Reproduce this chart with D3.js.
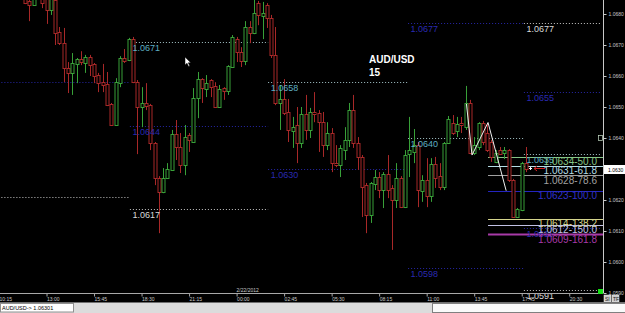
<!DOCTYPE html>
<html>
<head>
<meta charset="utf-8">
<title>AUD/USD 15</title>
<script src="https://d3js.org/d3.v7.min.js"></script>
<style>
  body { margin: 0; background: #000; overflow: hidden; }
  svg { display: block; font-family: Arial, "Liberation Sans", sans-serif; }
</style>
</head>
<body>
<script>
// M15 bars, first one shown is bar 6 (counted from the 10:15 tick)
const firstBar = 6;
const opens = [1.06861,1.06842,1.06829,1.06871,1.06855,1.06852,1.06813,1.06845,1.06742,1.06706,
  1.06626,1.06610,1.06639,1.06655,1.06642,1.06661,1.06639,1.06603,1.06580,1.06574,
  1.06510,1.06442,1.06577,1.06658,1.06652,1.06719,1.06580,1.06500,1.06513,1.06506,
  1.06384,1.06271,1.06226,1.06271,1.06297,1.06413,1.06371,1.06313,1.06410,1.06387,
  1.06529,1.06590,1.06558,1.06587,1.06568,1.06500,1.06561,1.06551,1.06629,1.06719,
  1.06677,1.06648,1.06758,1.06739,1.06835,1.06794,1.06829,1.06787,1.06668,1.06513,
  1.06526,1.06484,1.06422,1.06442,1.06384,1.06477,1.06426,1.06484,1.06481,1.06451,
  1.06377,1.06416,1.06319,1.06313,1.06361,1.06394,1.06490,1.06384,1.06339,1.06248,
  1.06152,1.06252,1.06274,1.06232,1.06284,1.06239,1.06200,1.06271,1.06177,1.06348,
  1.06355,1.06377,1.06229,1.06265,1.06213,1.06316,1.06277,1.06242,1.06384,1.06448,
  1.06422,1.06448,1.06435,1.06513,1.06351,1.06371,1.06448,1.06416,1.06387,1.06323,
  1.06361,1.06351,1.06361,1.06265,1.06145,1.06168,1.06319];
const highs = [1.06877,1.06855,1.06861,1.06894,1.06865,1.06861,1.06858,1.06855,1.06758,1.06755,
  1.06645,1.06674,1.06658,1.06680,1.06668,1.06668,1.06642,1.06610,1.06639,1.06613,
  1.06513,1.06593,1.06664,1.06687,1.06723,1.06726,1.06587,1.06564,1.06577,1.06510,
  1.06387,1.06277,1.06303,1.06319,1.06426,1.06458,1.06416,1.06442,1.06416,1.06561,
  1.06613,1.06593,1.06603,1.06590,1.06580,1.06571,1.06564,1.06635,1.06732,1.06726,
  1.06693,1.06777,1.06777,1.06852,1.06842,1.06839,1.06835,1.06797,1.06758,1.06571,
  1.06590,1.06526,1.06468,1.06500,1.06500,1.06539,1.06497,1.06548,1.06490,1.06484,
  1.06451,1.06432,1.06377,1.06377,1.06435,1.06513,1.06539,1.06403,1.06345,1.06255,
  1.06258,1.06297,1.06290,1.06290,1.06345,1.06248,1.06319,1.06277,1.06361,1.06468,
  1.06429,1.06387,1.06280,1.06335,1.06335,1.06339,1.06319,1.06387,1.06471,1.06474,
  1.06468,1.06468,1.06568,1.06523,1.06403,1.06451,1.06455,1.06448,1.06394,1.06361,
  1.06371,1.06371,1.06364,1.06268,1.06174,1.06323,1.06371];
const lows = [1.06832,1.06777,1.06826,1.06855,1.06819,1.06768,1.06797,1.06700,1.06700,1.06580,
  1.06545,1.06539,1.06577,1.06635,1.06610,1.06600,1.06577,1.06548,1.06548,1.06503,
  1.06439,1.06439,1.06564,1.06642,1.06648,1.06577,1.06348,1.06435,1.06490,1.06361,
  1.06248,1.06093,1.06222,1.06268,1.06294,1.06329,1.06287,1.06280,1.06355,1.06384,
  1.06464,1.06513,1.06532,1.06532,1.06497,1.06497,1.06523,1.06539,1.06626,1.06645,
  1.06629,1.06635,1.06706,1.06735,1.06764,1.06719,1.06755,1.06658,1.06506,1.06426,
  1.06474,1.06387,1.06368,1.06319,1.06368,1.06394,1.06400,1.06451,1.06355,1.06339,
  1.06361,1.06290,1.06306,1.06274,1.06329,1.06371,1.06368,1.06297,1.06145,1.06093,
  1.06126,1.06232,1.06206,1.06174,1.06206,1.06039,1.06174,1.06174,1.06174,1.06274,
  1.06319,1.06177,1.06194,1.06177,1.06194,1.06239,1.06232,1.06232,1.06381,1.06410,
  1.06403,1.06416,1.06426,1.06348,1.06345,1.06361,1.06377,1.06355,1.06323,1.06319,
  1.06345,1.06332,1.06258,1.06142,1.06142,1.06164,1.06290];
const closes = [1.06835,1.06829,1.06852,1.06884,1.06835,1.06813,1.06848,1.06739,1.06706,1.06626,
  1.06610,1.06642,1.06655,1.06645,1.06661,1.06635,1.06600,1.06577,1.06571,1.06506,
  1.06442,1.06580,1.06658,1.06648,1.06719,1.06580,1.06500,1.06513,1.06503,1.06384,
  1.06271,1.06226,1.06271,1.06300,1.06413,1.06371,1.06313,1.06403,1.06394,1.06529,
  1.06590,1.06561,1.06577,1.06564,1.06500,1.06558,1.06551,1.06632,1.06726,1.06677,
  1.06648,1.06758,1.06739,1.06803,1.06797,1.06803,1.06787,1.06668,1.06513,1.06526,
  1.06481,1.06426,1.06435,1.06384,1.06477,1.06426,1.06484,1.06477,1.06451,1.06377,
  1.06416,1.06319,1.06313,1.06368,1.06394,1.06490,1.06384,1.06339,1.06242,1.06152,
  1.06255,1.06274,1.06232,1.06284,1.06232,1.06200,1.06271,1.06177,1.06345,1.06361,
  1.06377,1.06232,1.06265,1.06213,1.06316,1.06271,1.06242,1.06384,1.06461,1.06416,
  1.06445,1.06442,1.06513,1.06351,1.06377,1.06448,1.06387,1.06361,1.06339,1.06351,
  1.06348,1.06361,1.06265,1.06145,1.06171,1.06319,1.06301];

// time axis, one label every 11 bars
const timeLabels = ["10:15","13:00","15:45","18:30","21:15","00:00","02:45","05:30","08:15","11:00","13:45","17:45","20:30"];
const dateLabel = "2/22/2012";
const priceTicks = [1.0590,1.0600,1.0610,1.0620,1.0630,1.0640,1.0650,1.0660,1.0670,1.0680];

// session high/mid/low levels (w = white line, b = blue line, c = white line with cyan label)
const levelPrices = [1.0658,1.0621, 1.0671,1.0644,1.0617, 1.0658,1.0630, 1.0677,1.0640,1.0598, 1.0677,1.0655,1.0635,1.0611,1.0591];
const levelFrom   = [-30,-30, 30.3,30.3,30.3, 62.3,62.3, 94.7,94.7,94.7, 121.5,121.5,121.5,121.5,121.5];
const levelTo     = [30.3,30.3, 62.3,62.3,62.3, 94.7,94.7, 121.5,121.5,121.5, 139.2,139.2,139.2,139.2,139.2];
const levelKind   = ["b","w", "c","b","w", "c","b", "b","c","b", "w","b","c","b","w"];

// zigzag and fibonacci expansion
const zigBars = [108.2, 109.5, 113.2, 117.4];
const zigPrices = [1.0651, 1.06345, 1.0645, 1.0623];
const fibPrices = [1.0634, 1.0631, 1.0628, 1.0623, 1.0614, 1.0612, 1.0609];
const fibRatios = ["50.0", "61.8", "78.6", "100.0", "138.2", "150.0", "161.8"];
const fibStart = 113.2;

const symbol = "AUD/USD";
const period = "15";

const W = 625, H = 313;
const plotR = 603, plotB = 293;

const x = d3.scaleLinear().domain([0, 140]).range([-1, 603.8]);
const y = d3.scaleLinear().domain([1.0590, 1.0680]).range([plotB, 14]);

const svg = d3.select('body').append('svg')
    .attr('width', W)
    .attr('height', H);

svg.append('rect').attr('width', W).attr('height', H).attr('fill', '#000');

svg.append('clipPath').attr('id', 'plot')
  .append('rect').attr('x', 0).attr('y', 0).attr('width', plotR).attr('height', plotB);

const plot = svg.append('g').attr('clip-path', 'url(#plot)');

const px = v => Math.round(v) + 0.5;

// level lines
const levels = levelPrices.map((p, k) => ({p, a: levelFrom[k], b: levelTo[k], kind: levelKind[k]}));
const lineCol = {w: '#c4c4c4', b: '#2626a6', c: '#a4c4c8'};
const labCol = {w: '#d8d8d8', b: '#2a2ab0', c: '#5eaec2'};

plot.selectAll('line.level')
    .data(levels)
    .enter()
    .append('line')
    .attr('class', 'level')
    .attr('x1', d => x(d.a))
    .attr('x2', d => Math.min(x(d.b), 600))
    .attr('y1', d => px(y(d.p)))
    .attr('y2', d => px(y(d.p)))
    .attr('stroke', d => lineCol[d.kind])
    .attr('stroke-dasharray', '1,2');

// fibonacci lines
const fibCol = ['#86c486', '#b4dce4', '#a0a0a0', '#2424c0', '#d4d48c', '#c0c0e4', '#a83aa8'];
const fib = fibPrices.map((p, k) => ({p, r: fibRatios[k], col: fibCol[k]}));

plot.selectAll('line.fib')
    .data(fib)
    .enter()
    .append('line')
    .attr('class', 'fib')
    .attr('x1', x(fibStart))
    .attr('x2', plotR)
    .attr('y1', d => px(y(d.p)))
    .attr('y2', d => px(y(d.p)))
    .attr('stroke', d => d.col)
    .attr('stroke-width', (d, k) => k === 6 ? 2 : 1);

// candles
const bars = opens.map((o, k) => ({i: firstBar + k, o, h: highs[k], l: lows[k], c: closes[k]}));
const up = d => d.c > d.o;
const upCol = '#38a038', downCol = '#a82828';

const candle = plot.selectAll('g.bar')
    .data(bars)
    .enter()
    .append('g')
    .attr('class', 'bar');

candle.append('line')
    .attr('x1', d => px(x(d.i)))
    .attr('x2', d => px(x(d.i)))
    .attr('y1', d => y(d.h))
    .attr('y2', d => y(d.l))
    .attr('stroke', d => up(d) ? upCol : downCol);

candle.append('rect')
    .attr('x', d => px(x(d.i)) - 1.5)
    .attr('y', d => Math.round(y(Math.max(d.o, d.c))) + 0.5)
    .attr('width', 3)
    .attr('height', d => Math.max(1, Math.round(Math.abs(y(d.o) - y(d.c)))))
    .attr('fill', '#000')
    .attr('stroke', d => up(d) ? upCol : downCol);

// zigzag
plot.append('path')
    .datum(zigBars.map((b, k) => [x(b), y(zigPrices[k])]))
    .attr('d', d3.line())
    .attr('fill', 'none')
    .attr('stroke', '#f0f0f0')
    .attr('stroke-width', 1);

// level labels (only where the segment starts inside the chart)
svg.selectAll('text.level')
    .data(levels.filter(d => x(d.a) >= 0))
    .enter()
    .append('text')
    .attr('class', 'level')
    .attr('x', d => x(d.a) + 2.5)
    .attr('y', d => y(d.p) + 9)
    .attr('font-size', 9)
    .attr('fill', d => labCol[d.kind])
    .text(d => d.p.toFixed(4));

// fib labels
svg.selectAll('text.fib')
    .data(fib)
    .enter()
    .append('text')
    .attr('class', 'fib')
    .attr('x', 597)
    .attr('y', d => y(d.p) + 8.5)
    .attr('text-anchor', 'end')
    .attr('font-size', 10)
    .attr('fill', d => d.col === '#2424c0' ? '#3030c8' : d.col)
    .text(d => `${d.p.toFixed(4)}-${d.r}`);

// last price marker and arrow
const last = bars[bars.length - 1];
const ly = px(y(last.c));
svg.append('path')
    .attr('d', `M${x(last.i) + 3},${ly - 1} h3 M${x(last.i) + 4.5},${ly - 2.5} v3`)
    .attr('stroke', '#fff');
svg.append('path')
    .attr('d', `M${x(last.i) + 19},${ly - 1} h-11 M${x(last.i) + 11},${ly - 3.5} l-3,2.5 l3,2.5`)
    .attr('stroke', '#d02020')
    .attr('fill', 'none');

// symbol caption
svg.append('text')
    .attr('x', 369).attr('y', 63)
    .attr('font-size', 10).attr('font-weight', 'bold')
    .attr('fill', '#fff')
    .text(symbol);
svg.append('text')
    .attr('x', 369).attr('y', 76)
    .attr('font-size', 10).attr('font-weight', 'bold')
    .attr('fill', '#fff')
    .text(period);

// right price axis
const yAxis = svg.append('g')
    .attr('transform', `translate(${plotR + 0.5},0)`)
    .call(d3.axisRight(y).tickValues(priceTicks).tickFormat(d3.format('.4f')).tickSize(3).tickPadding(2));
yAxis.select('.domain').attr('d', `M0,0V${plotB}`).attr('stroke', '#c8c8c8');
yAxis.selectAll('line').attr('stroke', '#c8c8c8');
yAxis.selectAll('text').attr('fill', '#c8c8c8').attr('font-size', 5).attr('font-family', 'Arial');

// bottom time axis
const xAxis = svg.append('g')
    .attr('transform', `translate(0,${plotB + 0.5})`)
    .call(d3.axisBottom(x).tickValues(timeLabels.map((t, k) => k * 11)).tickFormat((d, k) => timeLabels[k]).tickSize(3).tickPadding(1));
xAxis.select('.domain').attr('d', `M0,0H${plotR}`).attr('stroke', '#a8a8a8');
xAxis.selectAll('line').attr('stroke', '#a8a8a8');
xAxis.selectAll('text')
    .attr('text-anchor', 'start')
    .attr('fill', '#c8c8c8')
    .attr('font-size', 5)
    .attr('font-family', 'Arial');

svg.append('text')
    .attr('x', x(55)).attr('y', plotB - 1.5)
    .attr('font-size', 5).attr('fill', '#c8c8c8')
    .text(dateLabel);

// current price box
svg.append('rect')
    .attr('x', plotR + 1).attr('y', ly - 4.5)
    .attr('width', 21).attr('height', 9)
    .attr('fill', '#fff');
svg.append('text')
    .attr('x', plotR + 5).attr('y', ly + 2)
    .attr('font-size', 5).attr('fill', '#000')
    .text(last.c.toFixed(4));

// small widgets near the price scale
svg.append('rect').attr('x', 598).attr('y', 289).attr('width', 5).attr('height', 5).attr('fill', '#18e018');
svg.append('rect').attr('x', 598.5).attr('y', 135.5).attr('width', 4).attr('height', 5)
    .attr('fill', '#000').attr('stroke', '#c8e0c8').attr('stroke-width', 0.7);
['SI', 'TF'].forEach((t, k) => {
  svg.append('rect').attr('x', 604 + k * 8).attr('y', 295).attr('width', 7).attr('height', 7)
      .attr('fill', '#c8c8c8').attr('stroke', '#f0f0f0').attr('stroke-width', 0.5);
  svg.append('text').attr('x', 605 + k * 8).attr('y', 300.5)
      .attr('font-size', 5).attr('fill', '#202020').text(t);
});

// status strip
svg.append('rect').attr('x', 0).attr('y', 302).attr('width', W).attr('height', 11).attr('fill', '#dcdcdc');
svg.append('line').attr('x1', 0).attr('x2', W).attr('y1', 302.5).attr('y2', 302.5).attr('stroke', '#707070');
svg.append('rect').attr('x', 0.5).attr('y', 303.5).attr('width', 73).attr('height', 8.5)
    .attr('fill', '#fff').attr('stroke', '#909090');
svg.append('rect').attr('x', 432.5).attr('y', 303.5).attr('width', 193).attr('height', 9)
    .attr('fill', '#fafafa').attr('stroke', '#808080');
svg.append('text')
    .attr('x', 2).attr('y', 310)
    .attr('font-size', 5.5).attr('fill', '#000')
    .text(`${symbol}-> ${last.c.toFixed(5)}`);

// mouse pointer
svg.append('path')
    .attr('transform', 'translate(185,57)')
    .attr('d', 'M0,0 L0,8 L2,6.2 L3.6,9.6 L4.8,9 L3.3,5.8 L5.8,5.8 Z')
    .attr('fill', '#fff')
    .attr('stroke', '#000')
    .attr('stroke-width', 0.5);
</script>
</body>
</html>
